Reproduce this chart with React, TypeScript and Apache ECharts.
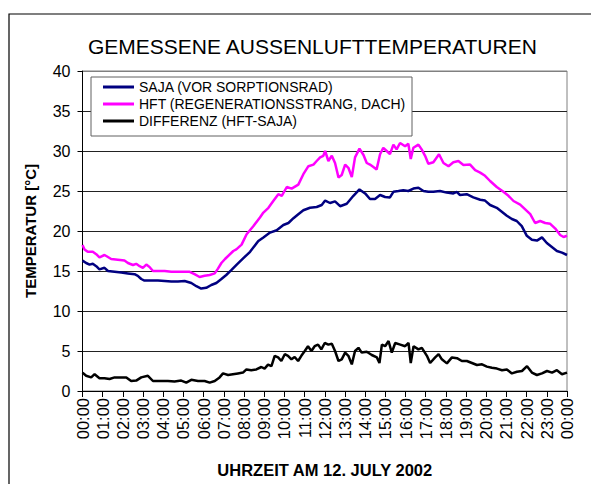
import React, { useEffect, useRef } from "react";
import * as echarts from "echarts";

const hourLabels = [
  "00:00", "01:00", "02:00", "03:00", "04:00", "05:00", "06:00", "07:00",
  "08:00", "09:00", "10:00", "11:00", "12:00", "13:00", "14:00", "15:00",
  "16:00", "17:00", "18:00", "19:00", "20:00", "21:00", "22:00", "23:00", "00:00",
];

const seriesNames = [
  "SAJA (VOR SORPTIONSRAD)",
  "HFT (REGENERATIONSSTRANG, DACH)",
  "DIFFERENZ (HFT-SAJA)",
];

// [hour of day, °C]
const saja: [number, number][] = [
  [0, 16.3], [0.18, 16.0], [0.35, 15.8], [0.51, 15.9], [0.68, 15.6], [0.84, 15.2], [1.09, 15.4], [1.26, 15.0],
  [1.59, 14.9], [1.92, 14.8], [2.25, 14.7], [2.58, 14.6], [2.74, 14.4], [2.91, 14.0], [3.07, 13.8], [3.32, 13.8],
  [3.74, 13.8], [4.07, 13.75], [4.4, 13.7], [4.73, 13.7], [5.06, 13.75], [5.39, 13.5], [5.64, 13.1], [5.88, 12.8],
  [6.13, 12.9], [6.38, 13.25], [6.63, 13.5], [6.88, 14.0], [7.12, 14.5], [7.37, 15.1], [7.64, 15.8], [7.97, 16.6],
  [8.3, 17.4], [8.71, 18.75], [8.96, 19.2], [9.29, 19.8], [9.62, 20.1], [9.95, 20.75], [10.2, 21.0], [10.45, 21.6],
  [10.69, 22.1], [10.94, 22.6], [11.27, 22.9], [11.6, 23.0], [11.85, 23.25], [12.02, 23.8], [12.26, 23.5], [12.51, 23.7],
  [12.76, 23.1], [13.09, 23.4], [13.42, 24.4], [13.72, 25.2], [14.0, 24.7], [14.24, 24.0], [14.49, 24.0], [14.74, 24.5],
  [14.99, 24.25], [15.23, 24.2], [15.4, 24.9], [15.65, 25.0], [15.89, 25.1], [16.14, 25.0], [16.39, 25.3], [16.64, 25.4],
  [16.89, 25.0], [17.13, 24.9], [17.38, 24.9], [17.71, 25.0], [18.04, 24.8], [18.37, 24.7], [18.54, 24.9], [18.7, 24.5],
  [19.03, 24.6], [19.36, 24.2], [19.7, 23.9], [19.94, 23.8], [20.19, 23.25], [20.52, 22.9], [20.77, 22.4], [21.02, 21.9],
  [21.27, 21.5], [21.51, 21.25], [21.76, 20.6], [22.01, 19.4], [22.26, 18.9], [22.51, 18.8], [22.76, 19.2], [23.0, 18.5],
  [23.25, 18.0], [23.5, 17.5], [23.75, 17.3], [24.0, 17.0],
];

const hft: [number, number][] = [
  [0, 18.25], [0.1, 17.7], [0.26, 17.4], [0.51, 17.4], [0.68, 17.1], [0.84, 16.7], [1.09, 17.0], [1.26, 16.75],
  [1.42, 16.5], [1.75, 16.4], [2.08, 16.3], [2.25, 16.0], [2.5, 15.75], [2.66, 15.9], [2.83, 15.6], [2.99, 15.4],
  [3.16, 15.8], [3.32, 15.5], [3.49, 15.0], [3.74, 15.0], [4.07, 15.0], [4.4, 14.9], [4.73, 14.9], [5.06, 14.9],
  [5.31, 14.9], [5.55, 14.6], [5.8, 14.25], [6.05, 14.4], [6.3, 14.5], [6.55, 14.7], [6.71, 15.3], [6.88, 16.0],
  [7.06, 16.5], [7.47, 17.5], [7.62, 17.7], [7.88, 18.3], [8.13, 19.6], [8.46, 20.6], [8.79, 21.7], [8.96, 22.3],
  [9.21, 22.9], [9.45, 23.75], [9.7, 24.6], [9.87, 24.4], [10.12, 25.5], [10.36, 25.3], [10.69, 25.8], [10.94, 27.1],
  [11.19, 28.1], [11.44, 28.3], [11.6, 28.75], [11.77, 29.2], [11.93, 29.4], [12.02, 30.0], [12.18, 28.75], [12.35, 29.4],
  [12.51, 28.5], [12.68, 26.7], [12.84, 27.0], [13.01, 28.3], [13.17, 27.9], [13.34, 26.75], [13.5, 29.2], [13.72, 30.3],
  [13.92, 29.5], [14.08, 28.5], [14.24, 28.3], [14.41, 28.0], [14.57, 27.7], [14.74, 29.6], [14.9, 30.4], [15.07, 30.0],
  [15.23, 29.6], [15.4, 30.8], [15.56, 30.2], [15.73, 31.0], [15.98, 30.6], [16.14, 30.9], [16.26, 29.0], [16.39, 30.4],
  [16.64, 30.8], [16.8, 30.2], [16.97, 29.4], [17.13, 28.4], [17.38, 28.6], [17.66, 29.6], [17.88, 28.5], [18.13, 28.1],
  [18.37, 28.6], [18.62, 28.75], [18.87, 28.25], [19.2, 28.3], [19.45, 27.6], [19.7, 27.3], [19.94, 26.9], [20.19, 26.25],
  [20.52, 25.5], [20.85, 24.9], [21.1, 24.4], [21.35, 23.75], [21.68, 23.3], [21.93, 22.7], [22.18, 22.1], [22.42, 21.0],
  [22.67, 21.25], [22.92, 21.0], [23.17, 20.9], [23.42, 20.3], [23.66, 19.5], [23.83, 19.25], [24.0, 19.4],
];

const differenz: [number, number][] = [
  [0, 2.3], [0.18, 1.9], [0.43, 1.7], [0.6, 2.1], [0.84, 1.6], [1.09, 1.6], [1.34, 1.5], [1.59, 1.7],
  [1.92, 1.7], [2.17, 1.7], [2.41, 1.25], [2.66, 1.3], [2.91, 1.7], [3.24, 1.9], [3.49, 1.25], [3.9, 1.25],
  [4.23, 1.25], [4.56, 1.2], [4.89, 1.3], [5.14, 1.05], [5.39, 1.4], [5.72, 1.25], [6.05, 1.25], [6.3, 1.05],
  [6.55, 1.25], [6.79, 1.7], [6.96, 2.2], [7.21, 2.0], [7.45, 2.1], [7.7, 2.2], [7.95, 2.3], [8.12, 2.7],
  [8.36, 2.6], [8.61, 2.7], [8.86, 3.0], [9.02, 2.8], [9.19, 3.3], [9.36, 3.1], [9.52, 4.4], [9.69, 4.2],
  [9.85, 3.75], [10.02, 4.6], [10.18, 4.4], [10.35, 3.96], [10.51, 4.25], [10.68, 3.75], [10.84, 4.4], [11.01, 5.0],
  [11.17, 5.6], [11.34, 5.0], [11.5, 5.6], [11.67, 5.8], [11.83, 5.2], [12.0, 6.0], [12.18, 5.8], [12.35, 5.9],
  [12.51, 5.0], [12.68, 3.75], [12.84, 3.96], [13.01, 4.8], [13.17, 4.4], [13.34, 3.33], [13.5, 5.0], [13.67, 5.4],
  [13.83, 4.8], [14.08, 4.9], [14.33, 4.5], [14.58, 4.2], [14.71, 3.5], [14.83, 5.8], [14.99, 5.6], [15.16, 6.25],
  [15.32, 4.8], [15.49, 6.0], [15.74, 5.8], [15.98, 5.6], [16.15, 6.0], [16.26, 3.5], [16.4, 5.6], [16.64, 5.2],
  [16.81, 5.4], [17.06, 4.4], [17.22, 3.5], [17.47, 4.2], [17.64, 4.6], [17.8, 3.96], [18.05, 3.45], [18.3, 4.2],
  [18.55, 4.1], [18.79, 3.75], [19.04, 3.75], [19.29, 3.5], [19.54, 3.25], [19.79, 3.33], [20.03, 3.05], [20.28, 2.9],
  [20.53, 2.8], [20.78, 2.6], [21.02, 2.7], [21.27, 2.2], [21.52, 2.4], [21.77, 2.5], [22.02, 3.1], [22.26, 2.3],
  [22.51, 2.0], [22.76, 2.2], [23.01, 2.5], [23.26, 2.3], [23.5, 2.6], [23.75, 2.1], [24.0, 2.3],
];

const seriesColors = ["#000080", "#FF00FF", "#000000"];

export default function App() {
  const ref = useRef<HTMLDivElement>(null);

  useEffect(() => {
    if (!ref.current) return;
    const chart = echarts.init(ref.current, null, { renderer: "svg" });
    const font = "'Liberation Sans', Arial, sans-serif";
    const datasets = [saja, hft, differenz];
    chart.setOption({
      animation: false,
      backgroundColor: "#ffffff",
      textStyle: { fontFamily: font },
      title: {
        text: "GEMESSENE AUSSENLUFTTEMPERATUREN",
        left: 88,
        top: 36,
        padding: 0,
        textStyle: { fontSize: 21, fontWeight: "normal", color: "#000", fontFamily: font },
      },
      grid: {
        left: 82.5,
        top: 71,
        right: 24,
        bottom: 93,
        show: true,
        borderColor: "#808080",
        borderWidth: 1,
        backgroundColor: "#ffffff",
      },
      legend: {
        data: seriesNames,
        orient: "vertical",
        left: 103,
        top: 79,
        padding: 0,
        itemGap: 1,
        itemWidth: 31,
        itemHeight: 3,
        icon: "rect",
        z: 5,
        textStyle: { fontSize: 14, color: "#000", lineHeight: 16, fontFamily: font },
      },
      xAxis: {
        type: "value",
        min: 0,
        max: 24,
        interval: 1,
        name: "UHRZEIT AM 12. JULY 2002",
        nameLocation: "middle",
        nameGap: 70,
        nameTextStyle: { fontSize: 16.5, fontWeight: "bold", color: "#000", fontFamily: font },
        axisLine: { show: true, lineStyle: { color: "#000", width: 1 } },
        axisTick: { show: true, length: 6, lineStyle: { color: "#000" } },
        axisLabel: {
          rotate: 90,
          fontSize: 16.5,
          color: "#000",
          margin: 7,
          showMinLabel: true,
          showMaxLabel: true,
          formatter: (v: number) => hourLabels[Math.round(v)],
        },
        splitLine: { show: false },
      },
      yAxis: {
        type: "value",
        min: 0,
        max: 40,
        interval: 5,
        name: "TEMPERATUR [°C]",
        nameLocation: "middle",
        nameRotate: 90,
        nameGap: 45,
        nameTextStyle: { fontSize: 15, fontWeight: "bold", color: "#000", fontFamily: font },
        axisLine: { show: true, lineStyle: { color: "#000", width: 1 } },
        axisTick: { show: true, length: 5, lineStyle: { color: "#000" } },
        axisLabel: { fontSize: 16, color: "#000", margin: 12 },
        splitLine: {
          show: true,
          lineStyle: {
            color: ["#000", "#222", "#222", "#222", "#222", "#222", "#222", "#222", "#808080"],
            width: 1,
          },
        },
      },
      graphic: [
        {
          type: "rect",
          shape: { x: 9, y: 14, width: 700, height: 600 },
          style: { fill: "transparent", stroke: "#000", lineWidth: 1.2 },
          silent: true,
          z: 10,
        },
        {
          type: "rect",
          shape: { x: 91, y: 77, width: 321, height: 59 },
          style: { fill: "#fff", stroke: "#606060", lineWidth: 1 },
          silent: true,
          z: 3,
        },
      ],
      series: seriesNames.map((name, i) => ({
        name,
        type: "line",
        data: datasets[i],
        symbol: "none",
        showSymbol: false,
        z: 2,
        lineStyle: { color: seriesColors[i], width: 2.5 },
        itemStyle: { color: seriesColors[i] },
      })),
    });
    return () => chart.dispose();
  }, []);

  return (
    <div
      ref={ref}
      style={{ position: "absolute", left: 0, top: 0, width: 591, height: 484 }}
    />
  );
}
